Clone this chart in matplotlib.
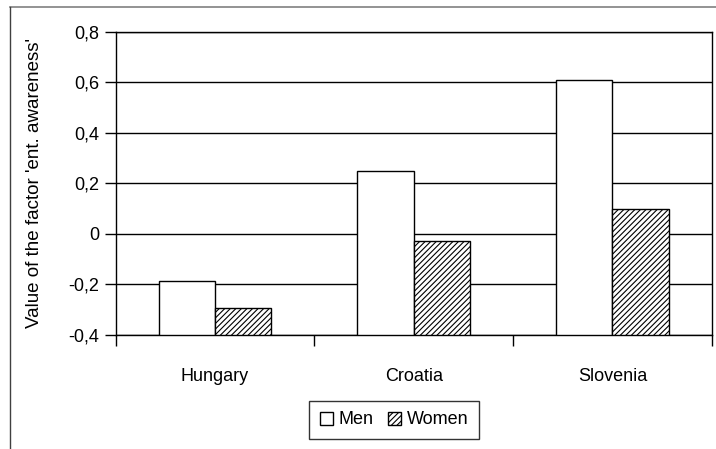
import matplotlib
matplotlib.use("Agg")
import matplotlib.pyplot as plt
import numpy as np
from matplotlib.lines import Line2D
from matplotlib.ticker import FuncFormatter

plt.rcParams['font.family'] = ['Liberation Sans', 'DejaVu Sans']
plt.rcParams['hatch.linewidth'] = 0.8

countries = ["Hungary", "Croatia", "Slovenia"]
men = [-0.187, 0.25, 0.61]
women = [-0.295, -0.03, 0.10]
series_names = ["Men", "Women"]
y_ticks = [-0.4, -0.2, 0.0, 0.2, 0.4, 0.6, 0.8]

fig = plt.figure(figsize=(7.16, 4.49), dpi=100)
ax = fig.add_axes([0.1616, 0.2539, 0.994 - 0.1616, 0.9294 - 0.2539])

x = np.arange(len(countries))
w = 0.284
ax.bar(x - w / 2, np.array(men) + 0.4, w, bottom=-0.4, color="white",
       edgecolor="black", linewidth=1.0, label=series_names[0], zorder=3)
ax.bar(x + w / 2, np.array(women) + 0.4, w, bottom=-0.4, color="white",
       edgecolor="black", linewidth=1.0, hatch="//////", label=series_names[1], zorder=3)

ax.set_xlim(-0.5, 2.5)
ax.set_ylim(-0.4, 0.8)
ax.set_yticks(y_ticks)
ax.yaxis.set_major_formatter(FuncFormatter(lambda v, p: "0" if abs(v) < 1e-9 else f"{v:.1f}".replace(".", ",")))
ax.grid(axis="y", color="black", linewidth=1.0, zorder=0)
ax.set_xticks([-0.5, 0.5, 1.5, 2.5], minor=False)
ax.set_xticklabels([])
ax.set_xticks(x, minor=True)
ax.set_xticklabels(countries, minor=True)
ax.tick_params(axis="x", which="minor", length=0, pad=24, labelsize=13)
ax.tick_params(axis="x", which="major", length=8, width=1.0, direction="out", color="black")
ax.tick_params(axis="y", length=8, width=1.0, direction="out", labelsize=13, pad=4)
for s in ax.spines.values():
    s.set_linewidth(1.0)
    s.set_color("black")

fig.text(35 / 716, 1 - 183 / 449, "Value of the factor 'ent. awareness'", rotation=90,
         ha="center", va="center", fontsize=13.5)

leg = fig.legend(loc="center", bbox_to_anchor=(394 / 716, 1 - 420 / 449), ncol=2,
                 frameon=True, fancybox=False, edgecolor="black", fontsize=13,
                 handlelength=0.75, handleheight=0.75, handletextpad=0.3,
                 columnspacing=0.8, borderpad=0.6)
leg.get_frame().set_linewidth(1.0)

# outer chart border (top and left edges)
fig.add_artist(Line2D([10 / 716, 1.0], [1 - 7.3 / 449] * 2, color="#808080", linewidth=1.2,
                      transform=fig.transFigure))
fig.add_artist(Line2D([10.3 / 716] * 2, [0, 1 - 7.3 / 449], color="#404040", linewidth=1.0,
                      transform=fig.transFigure))

fig.savefig("out.png", dpi=100)
